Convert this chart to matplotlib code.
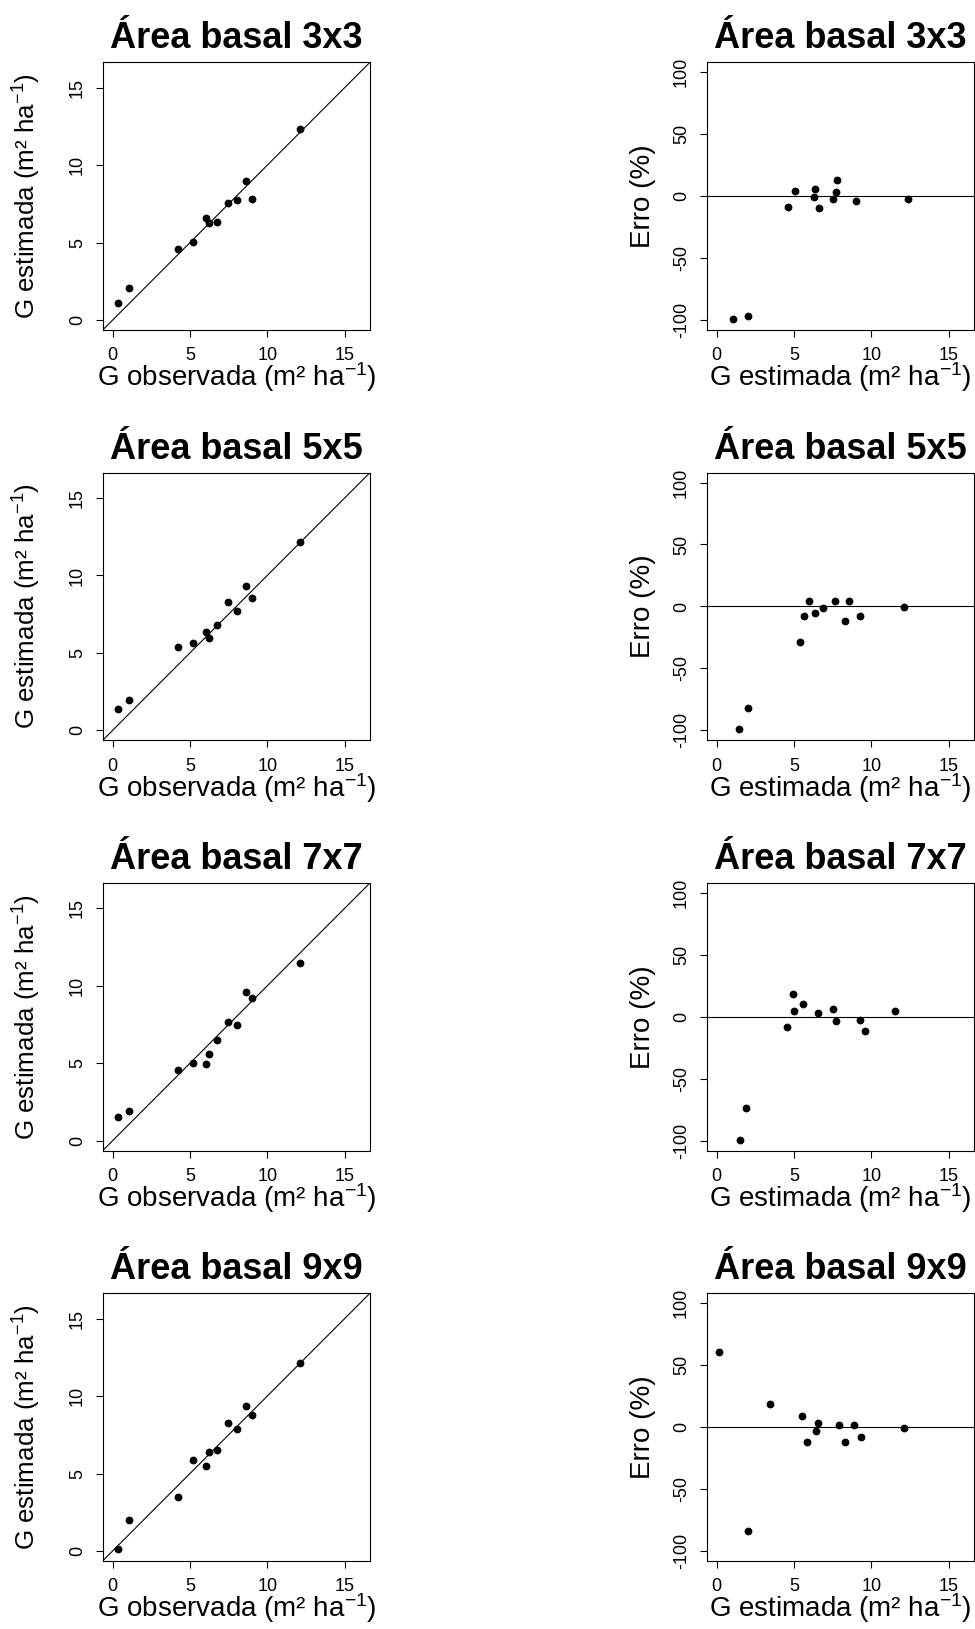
import matplotlib
matplotlib.use("Agg")
import matplotlib.pyplot as plt

# spacing labels for the four panel rows
espacamentos = ["3x3", "5x5", "7x7", "9x9"]

# observed basal area (same plots in every spacing)
g_obs = [0.33, 1.07, 4.20, 5.22, 6.04, 6.24, 6.74, 7.43, 8.04, 8.65, 9.00, 12.09]

# estimated basal area per spacing (same order as g_obs)
g_est_3x3 = [1.08, 2.05, 4.59, 5.04, 6.62, 6.29, 6.34, 7.54, 7.76, 9.01, 7.80, 12.35]
g_est_5x5 = [1.41, 1.99, 5.41, 5.63, 6.36, 5.97, 6.82, 8.29, 7.68, 9.29, 8.55, 12.14]
g_est_7x7 = [1.55, 1.90, 4.58, 4.99, 4.95, 5.62, 6.52, 7.69, 7.49, 9.61, 9.24, 11.49]
g_est_9x9 = [0.13, 2.03, 3.46, 5.85, 5.51, 6.41, 6.54, 8.29, 7.90, 9.33, 8.81, 12.14]

# error (%) against estimated G
erro_x_3x3 = [1.08, 2.05, 4.59, 5.06, 6.34, 6.29, 6.62, 7.54, 7.74, 7.80, 9.01, 12.35]
erro_y_3x3 = [-99.2, -96.5, -8.9, 3.8, 5.9, -0.5, -9.7, -2.2, 3.5, 13.2, -4.3, -2.4]
erro_x_5x5 = [1.42, 2.00, 5.41, 5.65, 5.99, 6.36, 6.85, 7.67, 8.32, 8.53, 9.27, 12.11]
erro_y_5x5 = [-98.9, -82.0, -28.5, -7.5, 4.0, -5.1, -1.6, 4.6, -12.1, 4.8, -7.5, -0.8]
erro_x_7x7 = [1.53, 1.90, 4.57, 4.94, 5.00, 5.60, 6.53, 7.50, 7.69, 9.25, 9.61, 11.49]
erro_y_7x7 = [-99.5, -73.3, -8.6, 18.3, 4.9, 10.2, 3.0, 6.5, -3.8, -3.0, -11.1, 4.6]
erro_x_9x9 = [0.15, 2.05, 3.45, 5.52, 5.86, 6.40, 6.55, 7.91, 8.30, 8.84, 9.33, 12.13]
erro_y_9x9 = [60.2, -84.1, 18.3, 8.6, -11.8, -3.0, 3.0, 1.6, -11.8, 1.9, -8.1, -1.1]

g_est = [g_est_3x3, g_est_5x5, g_est_7x7, g_est_9x9]
erro_x = [erro_x_3x3, erro_x_5x5, erro_x_7x7, erro_x_9x9]
erro_y = [erro_y_3x3, erro_y_5x5, erro_y_7x7, erro_y_9x9]

plt.rcParams["font.family"] = ["Liberation Sans", "DejaVu Sans"]
plt.rcParams["mathtext.fontset"] = "custom"
plt.rcParams["mathtext.rm"] = "Liberation Sans"
plt.rcParams["mathtext.it"] = "Liberation Sans:italic"
plt.rcParams["mathtext.bf"] = "Liberation Sans:bold"
plt.rcParams["axes.unicode_minus"] = False

W, H = 975, 1629
fig = plt.figure(figsize=(W / 100, H / 100), dpi=100)

lab_obs = "G observada (m² ha$^{-1}$)"
lab_est = "G estimada (m² ha$^{-1}$)"

tick_fs = 13
lab_fs = 20
title_fs = 26

def style_axes(ax):
    for s in ax.spines.values():
        s.set_linewidth(0.8)
    ax.tick_params(axis="both", direction="out", length=5, width=0.8,
                   labelsize=tick_fs)
    ax.tick_params(axis="x", pad=7.4)
    ax.tick_params(axis="y", pad=7, labelrotation=90)
    for lbl in ax.get_yticklabels():
        lbl.set_va("center")

def place_labels(ax, ylab_x):
    ax.xaxis.set_label_coords(0.5, -0.21)
    ax.xaxis.label.set_va("baseline")
    ax.yaxis.set_label_coords(ylab_x, 0.5)
    ax.yaxis.label.set_va("baseline")

for i, esp in enumerate(espacamentos):
    top = 62.3 + 410.3 * i
    h = 267.7
    bottom = 1 - (top + h) / H

    # left: observed vs estimated
    ax = fig.add_axes([102.7 / W, bottom, 267.3 / W, h / H])
    ax.plot(g_obs, g_est[i], "o", color="black", markersize=4.6)
    ax.axline((0, 0), slope=1, color="black", linewidth=0.8)
    ax.set_xlim(-0.64, 16.64)
    ax.set_ylim(-0.64, 16.64)
    ax.set_xticks([0, 5, 10, 15])
    ax.set_yticks([0, 5, 10, 15])
    style_axes(ax)
    ax.set_title("Área basal " + esp, fontsize=title_fs, fontweight="bold", pad=10)
    ax.set_xlabel(lab_obs, fontsize=lab_fs)
    ax.set_ylabel(lab_est, fontsize=18.7)
    place_labels(ax, -0.25)

    # right: estimated vs error
    ax2 = fig.add_axes([706.7 / W, bottom, 267.6 / W, h / H])
    ax2.plot(erro_x[i], erro_y[i], "o", color="black", markersize=4.6)
    ax2.axhline(0, color="black", linewidth=0.8)
    ax2.set_xlim(-0.64, 16.64)
    ax2.set_ylim(-108, 108)
    ax2.set_xticks([0, 5, 10, 15])
    ax2.set_yticks([-100, -50, 0, 50, 100])
    style_axes(ax2)
    ax2.set_title("Área basal " + esp, fontsize=title_fs, fontweight="bold", pad=10)
    ax2.set_xlabel(lab_est, fontsize=lab_fs)
    ax2.set_ylabel("Erro (%)", fontsize=lab_fs)
    place_labels(ax2, -0.212)

fig.savefig("out.png", dpi=100)
